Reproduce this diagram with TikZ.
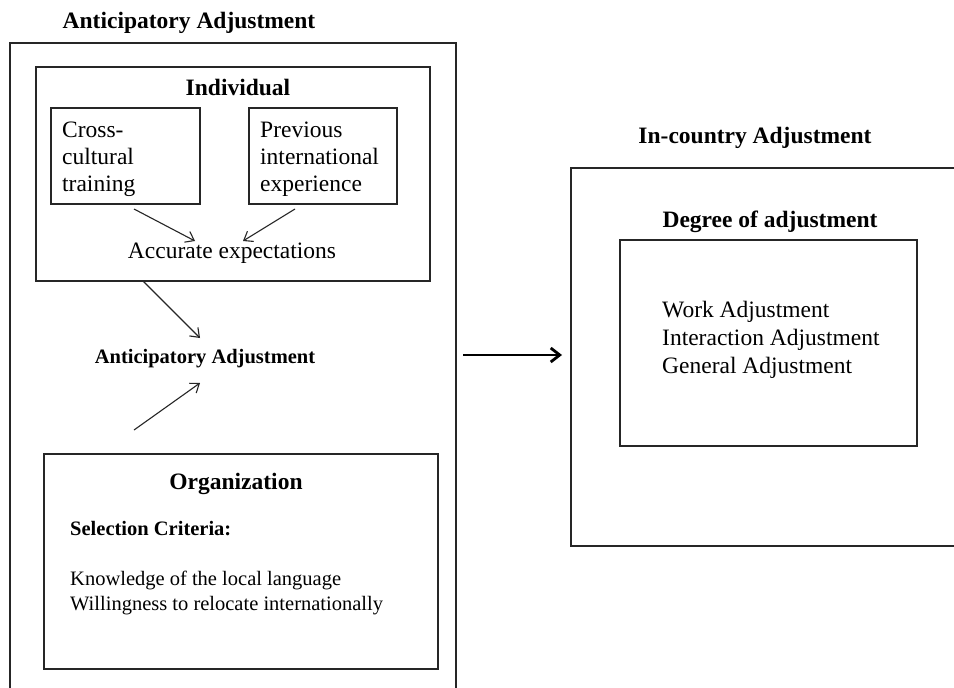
\documentclass[tikz,border=0pt]{standalone}
\usepackage{fontspec}
\setmainfont{Liberation Serif}
\usetikzlibrary{arrows.meta}
\begin{document}
\begin{tikzpicture}[x=1pt,y=-1pt,
  box/.style={draw=black!85, line width=1.2pt, inner sep=0pt, outer sep=0pt, anchor=north west},
  txt/.style={inner sep=0pt, font=\fontsize{23.5}{27}\selectfont},
  btxt/.style={inner sep=0pt, font=\fontsize{23.5}{27}\selectfont\bfseries},
  stxt/.style={inner sep=0pt, font=\fontsize{20.5}{25}\selectfont},
  sbtxt/.style={inner sep=0pt, font=\fontsize{20.5}{25}\selectfont\bfseries},
  conn/.style={draw=black!85, line width=1.1pt, -{Straight Barb[length=8pt,width=12pt]}},
  bigarrow/.style={draw=black, line width=2.8pt, -{Straight Barb[length=9pt,width=14pt]}}]
\useasboundingbox (0,0) rectangle (954,688);
\clip (0,0) rectangle (954,688);
\fill[white] (0,0) rectangle (954,688);

% boxes
\node[box, minimum width=446pt, minimum height=700pt] (antbox) at (10,43) {};
\node[box, minimum width=394pt, minimum height=214pt] (indiv) at (36,67) {};
\node[box, minimum width=149pt, minimum height=96pt] (ccbox) at (51,108) {};
\node[box, minimum width=148pt, minimum height=96pt] (prevbox) at (249,108) {};
\node[box, minimum width=394pt, minimum height=215pt] (orgbox) at (44,454) {};
\node[box, minimum width=420pt, minimum height=378pt] (incbox) at (571,168) {};
\node[box, minimum width=297pt, minimum height=206pt] (degbox) at (620,240) {};

% texts
\node[btxt, anchor=base] (title1) at (189,28) {Anticipatory Adjustment};
\node[btxt, anchor=base] (indivlbl) at (238,95) {Individual};
\node[txt, anchor=base west] (cc1) at (62,137) {Cross-};
\node[txt, anchor=base west] (cc2) at (62,164) {cultural};
\node[txt, anchor=base west] (cc3) at (62,191) {training};
\node[txt, anchor=base west] (pv1) at (260,137) {Previous};
\node[txt, anchor=base west] (pv2) at (260,164) {international};
\node[txt, anchor=base west] (pv3) at (260,191) {experience};
\node[txt, anchor=base] (acc) at (232,258) {Accurate expectations};
\node[sbtxt, anchor=base] (antmid) at (205,363) {Anticipatory Adjustment};
\node[btxt, anchor=base] (orglbl) at (236,489) {Organization};
\node[sbtxt, anchor=base west] (selcrit) at (70,535) {Selection Criteria:};
\node[stxt, anchor=base west] (know) at (70,585) {Knowledge of the local language};
\node[stxt, anchor=base west] (will) at (70,610) {Willingness to relocate internationally};
\node[btxt, anchor=base] (title2) at (755,143) {In-country Adjustment};
\node[btxt, anchor=base] (deglbl) at (770,227) {Degree of adjustment};
\node[txt, anchor=base west] (work) at (662,317) {Work Adjustment};
\node[txt, anchor=base west] (inter) at (662,345) {Interaction Adjustment};
\node[txt, anchor=base west] (gen) at (662,373) {General Adjustment};

% connectors
\coordinate (a1s) at (134,209); \coordinate (a1e) at (195,241);
\coordinate (a2s) at (295,209); \coordinate (a2e) at (243,241);
\coordinate (a3s) at (143,281); \coordinate (a3e) at (200,338);
\coordinate (a4s) at (134,430); \coordinate (a4e) at (200,383);
\coordinate (a5s) at (463,355); \coordinate (a5e) at (562,355);
\draw[conn] (a1s) -- (a1e);
\draw[conn] (a2s) -- (a2e);
\draw[conn] (a3s) -- (a3e);
\draw[conn] (a4s) -- (a4e);
\draw[bigarrow] (a5s) -- (a5e);
\end{tikzpicture}
\end{document}
